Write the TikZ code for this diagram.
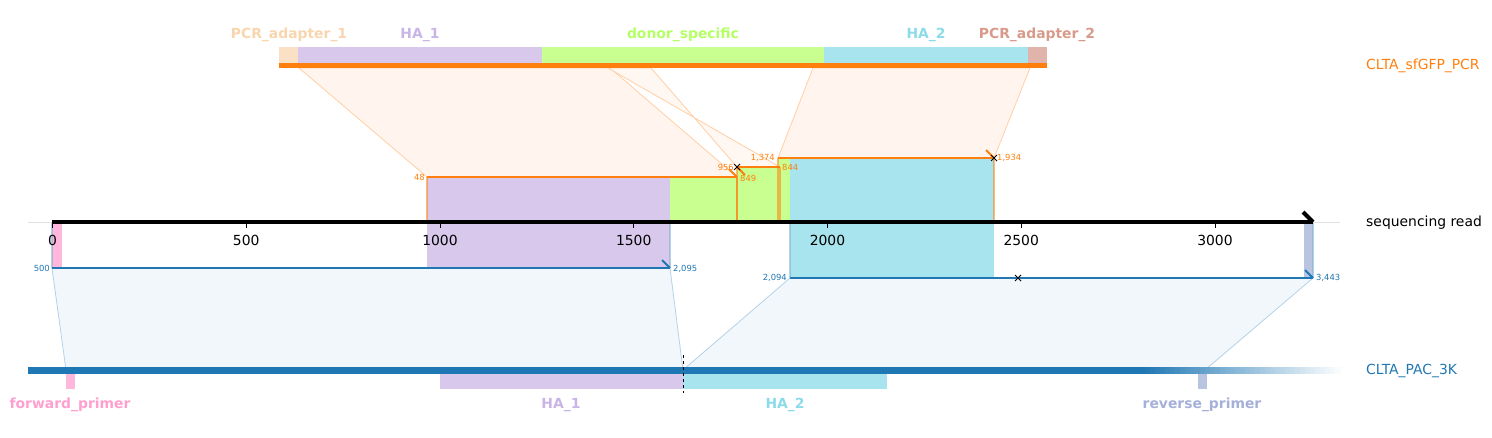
\documentclass[tikz,border=0pt]{standalone}
\usepackage{fontspec}
\setmainfont{DejaVu Sans}
\usetikzlibrary{positioning}
\definecolor{tabOrange}{HTML}{FF7F0E}
\definecolor{tabBlue}{HTML}{1F77B4}
\definecolor{adOne}{HTML}{FAE0C4}
\definecolor{adOneTxt}{HTML}{F9D5AE}
\definecolor{haOne}{HTML}{D8C8EC}
\definecolor{haOneTxt}{HTML}{C8B4E6}
\definecolor{donor}{HTML}{C8FF90}
\definecolor{donorTxt}{HTML}{B4FF64}
\definecolor{haTwo}{HTML}{A8E4EE}
\definecolor{haTwoTxt}{HTML}{8CDBE8}
\definecolor{adTwo}{HTML}{E0B4AA}
\definecolor{adTwoTxt}{HTML}{D89A8A}
\definecolor{fwd}{HTML}{FFB8DC}
\definecolor{fwdTxt}{HTML}{FF9FD0}
\definecolor{rev}{HTML}{B8C4E0}
\definecolor{revTxt}{HTML}{A4B0D8}
\definecolor{topFill}{HTML}{FFF5EE}
\definecolor{topEdge}{HTML}{FFCFA4}
\definecolor{botFill}{HTML}{F2F7FB}
\definecolor{botEdge}{HTML}{B4D2E8}

\begin{document}
\begin{tikzpicture}[x=1pt, y=-1pt,
  font=\fontsize{13.9}{16}\selectfont,
  lab/.style={font=\fontsize{13.9}{16}\selectfont\bfseries, inner sep=0pt, anchor=base},
  seqname/.style={anchor=west, inner sep=0pt},
  num/.style={font=\fontsize{8.4}{10}\selectfont, inner sep=1pt},
  aln/.style={line width=2pt},
  barb/.style={line width=2pt},
  link/.style={line width=0.8pt},
  endline/.style={line width=1.2pt, opacity=0.55}]
\useasboundingbox (0,0) rectangle (1492,437);
% ---------------- linking polygons ----------------
\filldraw[fill=topFill, draw=topEdge, link] (299,68) -- (610,68) -- (737,177) -- (427,177) -- cycle;
\filldraw[fill=topFill, draw=topEdge, link, fill opacity=0.8] (651,68) -- (608,68) -- (780,167) -- (737,167) -- cycle;
\filldraw[fill=topFill, draw=topEdge, link] (813,68) -- (1030,68) -- (994,158) -- (778,158) -- cycle;
\filldraw[fill=botFill, draw=botEdge, link] (52,268) -- (670,268) -- (683,370) -- (66,370) -- cycle;
\filldraw[fill=botFill, draw=botEdge, link] (790,278) -- (1313,278) -- (1205,370) -- (683,370) -- cycle;
% ---------------- features projected on the read ----------------
\fill[haOne] (427,177) rectangle (670,268);
\fill[donor] (670,177) rectangle (737,222);
\fill[donor] (737,167) rectangle (780,222);
\fill[donor] (778,158) rectangle (790,222);
\fill[haTwo] (790,158) rectangle (994,278);
\fill[fwd] (52,222) rectangle (62,268);
\fill[rev] (1304,222) rectangle (1313,278);
% ends of the alignments
\foreach \x/\y in {427/177, 737/177, 737/167, 778/158, 780/167, 994/158}
  \draw[endline, tabOrange] (\x,\y) -- (\x,222);
\foreach \x/\y in {52/268, 670/268, 790/278, 1313/278}
  \draw[endline, tabBlue!60] (\x,222) -- (\x,\y);
% ---------------- top sequence: CLTA_sfGFP_PCR ----------------
\fill[adOne] (279,47) rectangle (298,63);
\fill[haOne] (298,47) rectangle (542,63);
\fill[donor] (542,47) rectangle (824,63);
\fill[haTwo] (824,47) rectangle (1028,63);
\fill[adTwo] (1028,47) rectangle (1047,63);
\fill[tabOrange] (279,63) rectangle (1047,68);
\node[lab, text=adOneTxt] (lPA1) at (289,38) {PCR\_adapter\_1};
\node[lab, text=haOneTxt] (lHA1) at (420,38) {HA\_1};
\node[lab, text=donorTxt] (lDon) at (683,38) {donor\_specific};
\node[lab, text=haTwoTxt] (lHA2) at (926,38) {HA\_2};
\node[lab, text=adTwoTxt] (lPA2) at (1037,38) {PCR\_adapter\_2};
\node[seqname, text=tabOrange] (nPCR) at (1366,66) {CLTA\_sfGFP\_PCR};
% ---------------- read axis ----------------
\draw[black!12, line width=0.8pt] (28,222) -- (1340,222);
\foreach \t in {0,500,...,3000} {
  \pgfmathsetmacro{\tx}{52.5+0.3875*\t}
  \draw[line width=0.8pt] (\tx,222) -- (\tx,228);
  \node[anchor=base, inner sep=0pt] (t\t) at (\tx,245) {\t};
}
\draw[line width=4pt] (52,222) -- (1313,222);
\draw[line width=4pt] (1313,222) -- (1303,212);
\node[seqname] (nRead) at (1366,223) {sequencing read};
% ---------------- alignments ----------------
\draw[aln, tabOrange] (427,177) -- (737,177);
\draw[barb, tabOrange] (737,177) -- (729,169);
\draw[aln, tabOrange] (737,167) -- (780,167);
\draw[barb, tabOrange] (737,167) -- (745,175);
\draw[aln, tabOrange] (778,158) -- (994,158);
\draw[barb, tabOrange] (994,158) -- (986,150);
\draw[aln, tabBlue] (52,268) -- (670,268);
\draw[barb, tabBlue] (670,268) -- (662,260);
\draw[aln, tabBlue] (790,278) -- (1313,278);
\draw[barb, tabBlue] (1313,278) -- (1305,270);
\foreach \x/\y in {737/167, 994/158, 1018/278}
  \draw[line width=1pt] (\x-3,\y-3) -- (\x+3,\y+3) (\x-3,\y+3) -- (\x+3,\y-3);
\node[num, text=tabOrange, anchor=east] (p48) at (426,177) {48};
\node[num, text=tabOrange, anchor=west] (p849) at (739,178) {849};
\node[num, text=tabOrange, anchor=east] (p956) at (735,167) {956};
\node[num, text=tabOrange, anchor=west] (p844) at (781,167) {844};
\node[num, text=tabOrange, anchor=east] (p1374) at (776,158) {1,374};
\node[num, text=tabOrange, anchor=west] (p1934) at (996,158) {1,934};
\node[num, text=tabBlue, anchor=east] (p500) at (51,268) {500};
\node[num, text=tabBlue, anchor=west] (p2095) at (672,269) {2,095};
\node[num, text=tabBlue, anchor=east] (p2094) at (788,278) {2,094};
\node[num, text=tabBlue, anchor=west] (p3443) at (1315,278) {3,443};
% ---------------- bottom sequence: CLTA_PAC_3K ----------------
\fill[tabBlue] (28,367) rectangle (1142,374);
\foreach \i in {0,...,39} {
  \pgfmathsetmacro{\p}{100-2.5*\i}
  \fill[tabBlue!\p!white] (1140+5*\i,367) rectangle (1145.5+5*\i,374);
}
\fill[fwd] (66,374) rectangle (75,389);
\fill[haOne] (440,374) rectangle (683,389);
\fill[haTwo] (683,374) rectangle (887,389);
\fill[rev] (1198,374) rectangle (1207,389);
\draw[dashed, line width=1pt] (683,355) -- (683,393);
\node[lab, text=fwdTxt] (lFwd) at (70,408) {forward\_primer};
\node[lab, text=haOneTxt] (lHA1b) at (561,408) {HA\_1};
\node[lab, text=haTwoTxt] (lHA2b) at (785,408) {HA\_2};
\node[lab, text=revTxt] (lRev) at (1202,408) {reverse\_primer};
\node[seqname, text=tabBlue] (nPAC) at (1366,371) {CLTA\_PAC\_3K};
\end{tikzpicture}
\end{document}
